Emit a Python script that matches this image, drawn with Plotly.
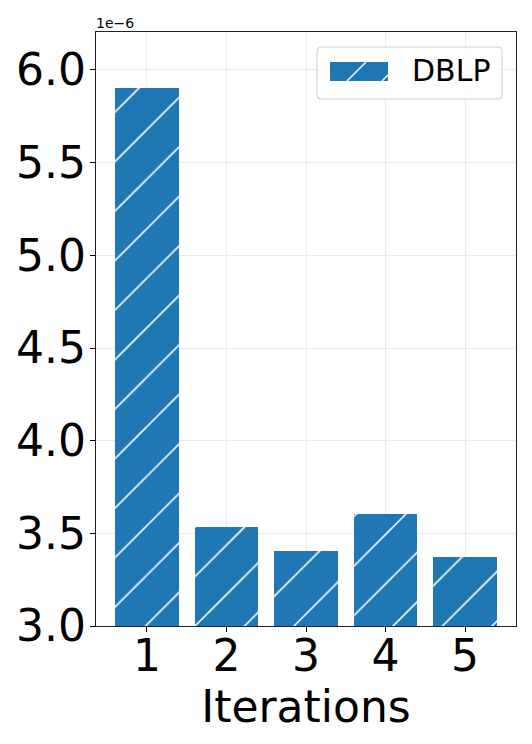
import plotly.graph_objects as go

# ---- data ----
iterations = [1, 2, 3, 4, 5]
values_e6 = [5.903, 3.534, 3.405, 3.604, 3.372]   # in units of 1e-6
series_name = "DBLP"
y_ticks = [3.0, 3.5, 4.0, 4.5, 5.0, 5.5, 6.0]
y_tick_labels = ["3.0", "3.5", "4.0", "4.5", "5.0", "5.5", "6.0"]
x_tick_labels = ["1", "2", "3", "4", "5"]

values = [v * 1e-6 for v in values_e6]
yt = [v * 1e-6 for v in y_ticks]

W, H = 532, 744
PL, PR, PT, PB = 96, 516, 32, 626
BLUE = "#1f77b4"
FONT = "DejaVu Sans"


def px(x, y):
    return (x - PL) / (PR - PL), (PB - y) / (PB - PT)


fig = go.Figure()
fig.add_trace(go.Bar(
    x=iterations, y=values, width=0.8, name=series_name,
    marker=dict(color=BLUE, line=dict(width=0),
                pattern=dict(shape="/", fgcolor="white", bgcolor=BLUE,
                             size=35, solidity=0.045, fillmode="replace")),
    showlegend=False,
))

shapes = []
# legend box (rounded)
bx0, by0, bx1, by1 = px(317, 99) + px(502, 47)
rx = 4 / (PR - PL)
ry = 4 / (PB - PT)
path = (f"M {bx0+rx},{by0} L {bx1-rx},{by0} Q {bx1},{by0} {bx1},{by0+ry} "
        f"L {bx1},{by1-ry} Q {bx1},{by1} {bx1-rx},{by1} "
        f"L {bx0+rx},{by1} Q {bx0},{by1} {bx0},{by1-ry} "
        f"L {bx0},{by0+ry} Q {bx0},{by0} {bx0+rx},{by0} Z")
shapes.append(dict(type="path", xref="paper", yref="paper", path=path,
                   line=dict(color="#d0d0d0", width=1), fillcolor="rgba(255,255,255,0.85)"))
# legend patch
p0 = px(330, 81)
p1 = px(388, 62)
shapes.append(dict(type="rect", xref="paper", yref="paper",
                   x0=p0[0], y0=p0[1], x1=p1[0], y1=p1[1],
                   line=dict(width=0), fillcolor=BLUE))
for (xa, ya, xb, yb) in [(347, 81, 366, 62), (382, 81, 388, 75)]:
    a = px(xa, ya)
    b = px(xb, yb)
    shapes.append(dict(type="line", xref="paper", yref="paper",
                       x0=a[0], y0=a[1], x1=b[0], y1=b[1],
                       line=dict(color="white", width=1.5)))

ann = []
tx, ty = px(410, 71)
ann.append(dict(x=tx, y=ty, xref="paper", yref="paper", text=series_name,
                showarrow=False, xanchor="left", yanchor="middle",
                font=dict(family=FONT, size=30, color="black")))
ann.append(dict(x=0, y=1, xref="paper", yref="paper", text="1e\u22126",
                showarrow=False, xanchor="left", yanchor="bottom", xshift=-2, yshift=-1,
                font=dict(family=FONT, size=14, color="black")))

fig.update_layout(
    width=W, height=H,
    margin=dict(l=PL, r=W - PR, t=PT, b=H - PB, pad=0),
    paper_bgcolor="white", plot_bgcolor="white",
    font=dict(family=FONT, color="black"),
    shapes=shapes, annotations=ann,
    bargap=0,
)
fig.update_xaxes(
    range=[0.36, 5.64], tickmode="array", tickvals=iterations, ticktext=x_tick_labels,
    tickfont=dict(size=44, family=FONT), ticks="outside", ticklen=5, tickwidth=1.2,
    tickcolor="black", showline=True, mirror=True, linecolor="#222", linewidth=1.2,
    showgrid=True, gridcolor="#ebebeb", gridwidth=1, zeroline=False,
    ticklabelstandoff=-14,
    title=dict(text="Iterations", font=dict(size=44, family=FONT), standoff=0),
)
fig.update_yaxes(
    range=[3.0e-6, 6.205e-6], tickmode="array", tickvals=yt, ticktext=y_tick_labels,
    tickfont=dict(size=44, family=FONT), ticks="outside", ticklen=5, tickwidth=1.2,
    tickcolor="black", showline=True, mirror=True, linecolor="#222", linewidth=1.2,
    showgrid=True, gridcolor="#ebebeb", gridwidth=1, zeroline=False,
    ticklabelstandoff=-5,
)

fig.write_html("out.html", config={"displayModeBar": False},
               post_script="document.body.style.margin='0';document.body.style.overflow='hidden';")
